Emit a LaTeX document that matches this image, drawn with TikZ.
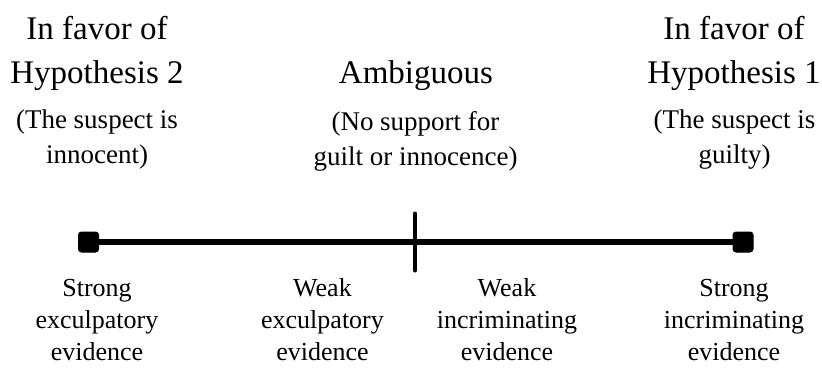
\documentclass[tikz,border=0pt]{standalone}
\usepackage{fontspec}
\setmainfont{Liberation Serif}
\usetikzlibrary{positioning}

\tikzset{
  endbox/.style={draw, fill=black, rounded corners=3pt, minimum size=20pt, inner sep=0pt, line width=1pt},
  headtext/.style={align=center, anchor=base, inner sep=0pt, font=\fontsize{33}{44}\selectfont},
  subtext/.style={align=center, anchor=base, inner sep=0pt, font=\fontsize{27}{35}\selectfont},
  evtext/.style={align=center, anchor=base, inner sep=0pt, font=\fontsize{26}{31.7}\selectfont},
}

\begin{document}
\begin{tikzpicture}[x=1pt, y=-1pt, line width=5.5pt]
		\useasboundingbox (0,0) rectangle (822,373);
		
		\node[endbox] (h2end) at (88.5,242) {};
		\node[endbox] (h1end) at (743,242) {};
		\coordinate (tickup) at (415,213.5);
		\coordinate (tickdown) at (415,270.5);
		
		\draw (h2end) -- (h1end);
		\draw[line width=4pt, line cap=round] (tickup) -- (tickdown);
		
		% top (base = last line)
		\node[headtext] (h2head) at (97,83.3) {In favor of\\Hypothesis 2};
		\node[subtext] (h2sub) at (97,163.3) {(The suspect is\\innocent)};
		\node[headtext] (amb) at (416,83.3) {Ambiguous};
		\node[subtext] (ambsub) at (415.5,165.5) {(No support for\\guilt or innocence)};
		\node[headtext] (h1head) at (734,83.3) {In favor of\\Hypothesis 1};
		\node[subtext] (h1sub) at (734.5,163.3) {(The suspect is\\guilty)};
		
		% bottom
		\node[evtext] (strongex) at (97,360) {Strong\\exculpatory\\evidence};
		\node[evtext] (weakex) at (322.5,360) {Weak\\exculpatory\\evidence};
		\node[evtext] (weakin) at (507,360) {Weak\\incriminating\\evidence};
		\node[evtext] (strongin) at (734,360) {Strong\\incriminating\\evidence};
	\end{tikzpicture}
\end{document}
